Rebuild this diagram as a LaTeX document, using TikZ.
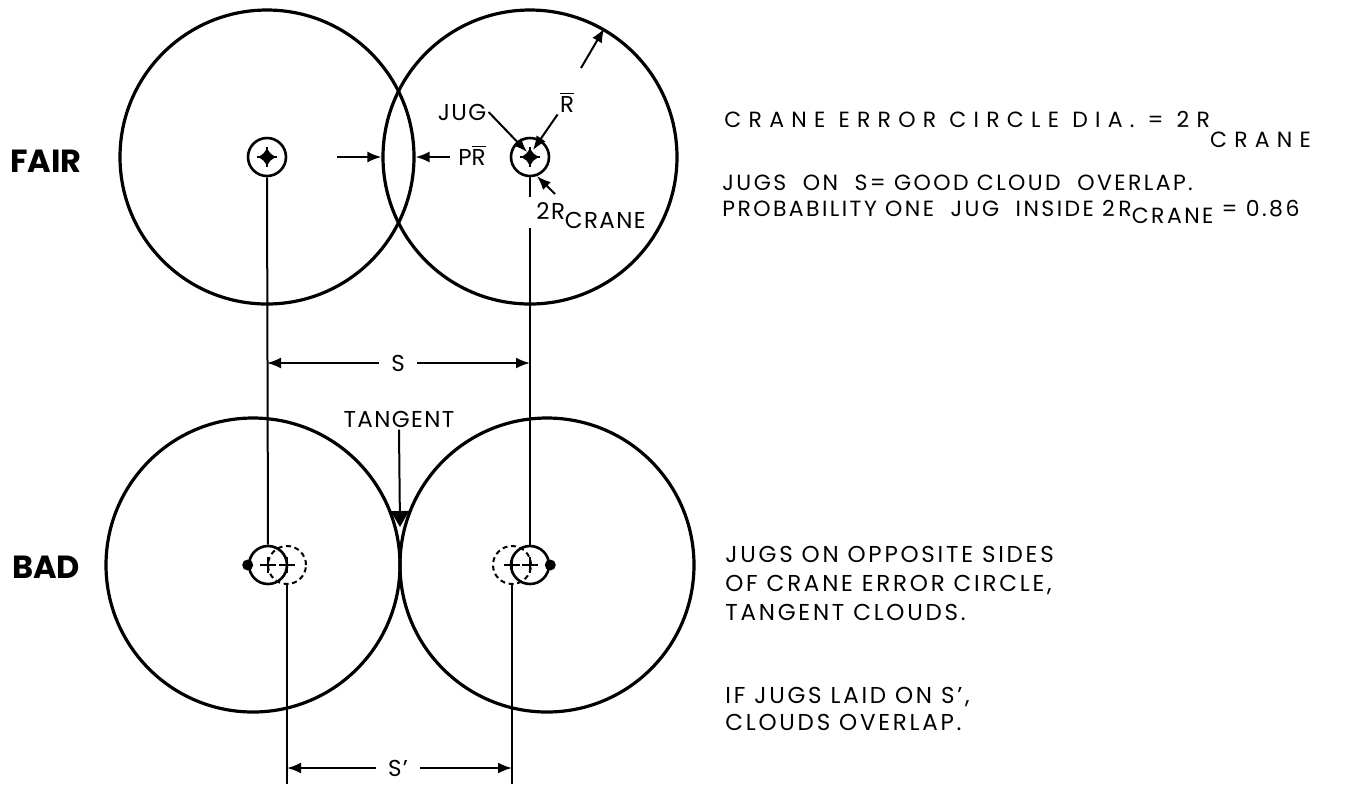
\documentclass[tikz,border=0pt]{standalone}
\usepackage{fontspec}
\setmainfont{Poppins}
\usetikzlibrary{arrows.meta,shapes.geometric}

\newcommand\jugcross[2]{\draw[line width=0.8pt] ([xshift=-#2]#1) -- ([xshift=#2]#1) ([yshift=-#2]#1) -- ([yshift=#2]#1);}

\begin{document}
\begin{tikzpicture}[x=0.5pt,y=-0.5pt,
    cloud/.style={circle,draw,line width=1.6pt,minimum size=147pt,inner sep=0pt},
    crane/.style={circle,draw,line width=1.3pt,minimum size=19pt,inner sep=0pt},
    ghost/.style={crane,line width=1pt,dash pattern=on 2.5pt off 1.8pt},
    jug/.style={star,star points=4,star point ratio=1.7,fill,minimum size=8.5pt,inner sep=0pt},
    dot/.style={circle,fill,minimum size=5.5pt,inner sep=0pt},
    dim/.style={line width=1pt,-{Latex[length=7pt,width=5.5pt]}},
    lbl/.style={font=\fontsize{11.5}{13}\selectfont\addfontfeature{LetterSpace=6},inner sep=1pt},
    dimlbl/.style={lbl,inner sep=6pt},
    side/.style={font=\fontsize{16}{18}\selectfont\bfseries},
    note/.style={anchor=base west,align=left,inner sep=0pt}
  ]
  \useasboundingbox (0,0) rectangle (1362,784);
  \coordinate (foot) at (0,784);
  \coordinate (gapa) at (0,197);
  \coordinate (gapb) at (0,228);

  % fair: jugs on S
  \node[cloud] (fl) at (267,157) {};
  \node[cloud] (fr) at (530,157) {};
  \node[crane] (cfl) at (267,157) {};
  \node[crane] (cfr) at (530,157) {};
  \node[jug] (jfl) at (cfl) {};
  \node[jug] (jfr) at (cfr) {};
  \jugcross{cfl.center}{5pt}
  \jugcross{cfr.center}{5pt}

  % bad: jugs on opposite sides
  \node[crane] (cbl) at (268,565) {};
  \node[crane] (cbr) at (530,565) {};
  \node[ghost] (gbl) at (287,565) {};
  \node[ghost] (gbr) at (512,565) {};
  \node[dot] (jbl) at (cbl.west) {};
  \node[dot] (jbr) at (cbr.east) {};
  \node[cloud] (bl) at (253,565) {};
  \node[cloud] (br) at (547,565) {};
  \jugcross{cbl.center}{4pt}
  \jugcross{cbr.center}{4pt}
  \jugcross{gbl.center}{4pt}
  \jugcross{gbr.center}{4pt}

  \node[side] (fair) at (46,161) {FAIR};
  \node[side] (bad) at (46,567) {BAD};

  % verticals
  \draw[line width=1pt] (cfl.south) -- (cbl.north);
  \draw[line width=1pt] (cfr.south) -- (cfr.south |- gapa);
  \draw[line width=1pt] (cfr.south |- gapb) -- (cbr.north);
  \draw[line width=1pt] (gbl.south) -- (gbl.south |- foot);
  \draw[line width=1pt] (gbr.south) -- (gbr.south |- foot);

  % labels and arrows
  \node[lbl] (juglbl) at (462,112) {JUG};
  \node[lbl] (rbar) at (567,102) {$\overline{\mbox{R}}$};
  \node[lbl,inner sep=4pt] (pr) at (472,155) {P$\overline{\mbox{R}}$};
  \node[lbl,anchor=base west] (twor) at (534,219) {2R\lower4.5pt\hbox{CRANE}};
  \coordinate (prs) at (337,157);
  \coordinate (rs) at (581,68);
  \coordinate (ts) at (555,194);
  \draw[dim] (juglbl.east) -- ([xshift=-1.5pt,yshift=2.5pt]cfr.center);
  \draw[dim] (rbar.south west) -- ([xshift=1.5pt,yshift=3.5pt]cfr.center);
  \draw[dim] (rs) -- (fr.60);
  \draw[dim] (ts) -- (cfr.-70);
  \draw[dim] (pr.west |- fl.east) -- (fl.east);
  \draw[dim] (prs) -- (fr.west);

  \node[dimlbl] (s) at (398,363) {S};
  \draw[dim] (s) -- (cfl.south |- s);
  \draw[dim] (s) -- (cfr.south |- s);
  \node[dimlbl] (sp) at (398,768) {S'};
  \draw[dim] (sp) -- (gbl.south |- sp);
  \draw[dim] (sp) -- (gbr.south |- sp);

  \node[lbl] (tang) at (399,419) {TANGENT};
  \coordinate (kiss) at (400,527);
  \draw[line width=1pt,-{Triangle[length=8pt,width=9pt]}] (tang.south) -- (kiss);

  % notes
  \node[note,font=\fontsize{11}{12}\selectfont\addfontfeature{LetterSpace=33}] (dia) at (724,127)
    {CRANE ERROR CIRCLE DIA. = 2R\lower10pt\hbox{CRANE}};
  \node[note,font=\fontsize{11}{13}\selectfont\addfontfeature{LetterSpace=11}] (good) at (722,216)
    {JUGS\ \ ON\ \ S= GOOD CLOUD\ \ OVERLAP.\\PROBABILITY ONE\ \ JUG\ \ INSIDE 2\,R\lower3.5pt\hbox{CRANE} = 0.86};
  \node[note,font=\fontsize{11.5}{14.3}\selectfont\addfontfeature{LetterSpace=12}] (opp) at (725,620)
    {JUGS ON OPPOSITE SIDES\\OF CRANE ERROR CIRCLE,\\TANGENT CLOUDS.};
  \node[note,font=\fontsize{11.5}{13.5}\selectfont\addfontfeature{LetterSpace=12}] (lay) at (725,730)
    {IF JUGS LAID ON S',\\CLOUDS OVERLAP.};
\end{tikzpicture}
\end{document}
